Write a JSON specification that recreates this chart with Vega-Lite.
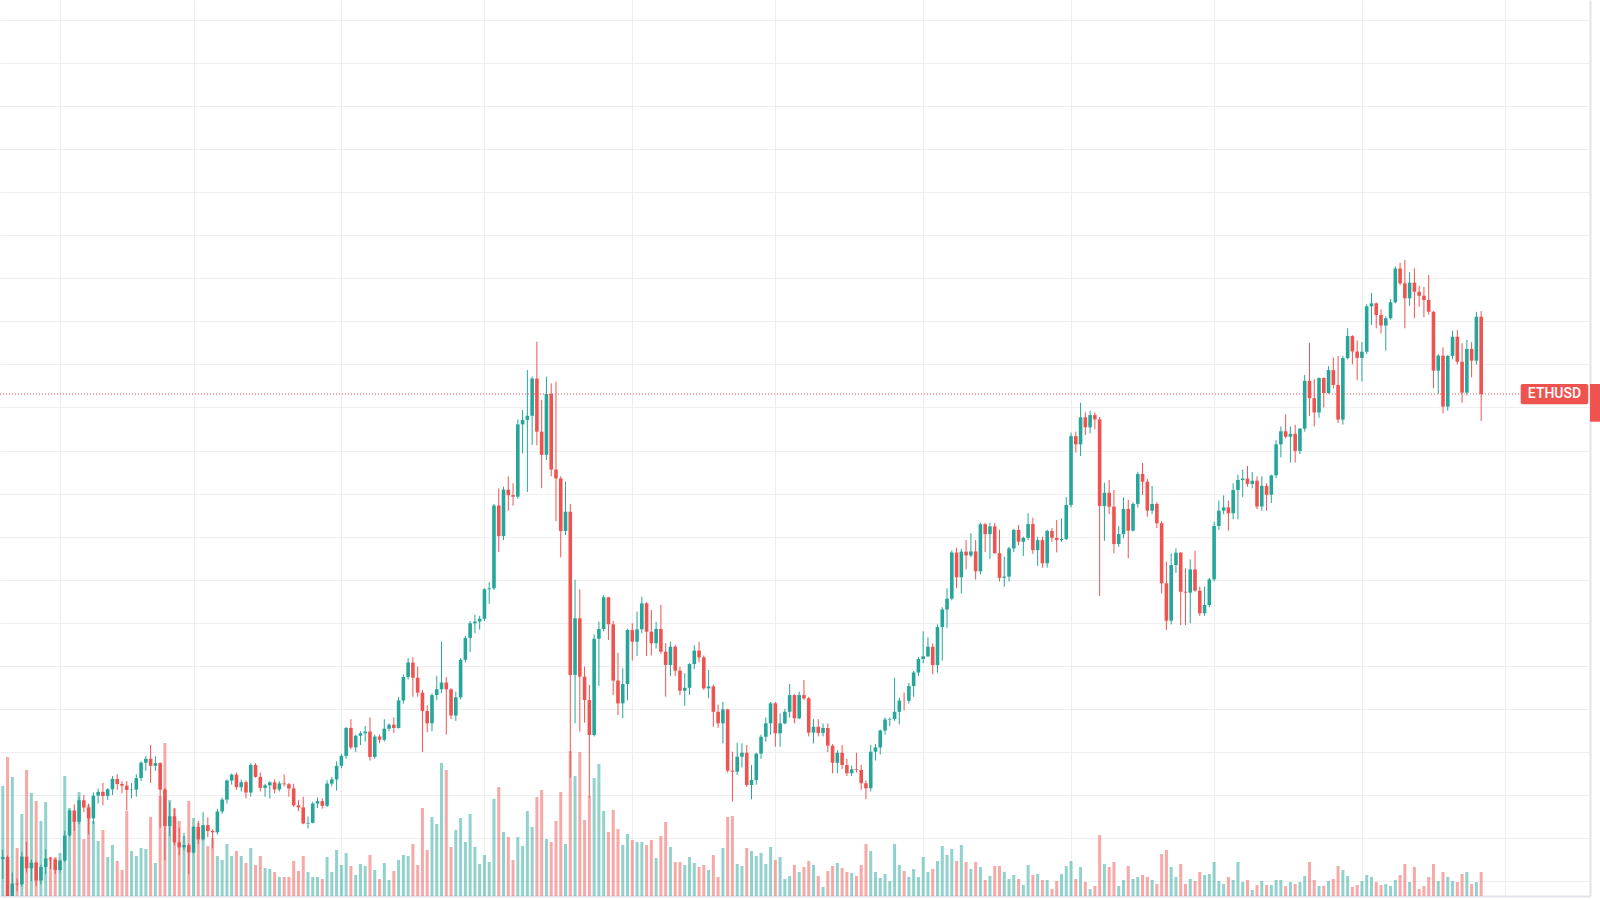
{
"$schema": "https://vega.github.io/schema/vega-lite/v6.json",
"width": 1590,
"height": 896,
"autosize": "none",
"padding": {"left": 0, "top": 0, "right": 10, "bottom": 4},
"background": "white",
"config": {"view": {"stroke": null}},
"datasets": {"eth": [
{"date":"2021-01-20","open":1378,"high":1432,"low":1262,"close":1390,"volume":220},
{"date":"2021-01-21","open":1390,"high":1398,"low":1050,"close":1121,"volume":278},
{"date":"2021-01-22","open":1121,"high":1300,"low":1000,"close":1236,"volume":238},
{"date":"2021-01-23","open":1236,"high":1265,"low":1190,"close":1231,"volume":96},
{"date":"2021-01-24","open":1231,"high":1420,"low":1218,"close":1392,"volume":164},
{"date":"2021-01-25","open":1392,"high":1478,"low":1300,"close":1324,"volume":252},
{"date":"2021-01-26","open":1324,"high":1375,"low":1250,"close":1357,"volume":206},
{"date":"2021-01-27","open":1357,"high":1365,"low":1220,"close":1253,"volume":190},
{"date":"2021-01-28","open":1253,"high":1345,"low":1230,"close":1332,"volume":150},
{"date":"2021-01-29","open":1332,"high":1435,"low":1290,"close":1382,"volume":188},
{"date":"2021-01-30","open":1382,"high":1390,"low":1320,"close":1376,"volume":78},
{"date":"2021-01-31","open":1376,"high":1382,"low":1290,"close":1314,"volume":78},
{"date":"2021-02-01","open":1314,"high":1375,"low":1300,"close":1369,"volume":86},
{"date":"2021-02-02","open":1369,"high":1540,"low":1360,"close":1515,"volume":240},
{"date":"2021-02-03","open":1515,"high":1665,"low":1508,"close":1660,"volume":176},
{"date":"2021-02-04","open":1660,"high":1695,"low":1540,"close":1594,"volume":158},
{"date":"2021-02-05","open":1594,"high":1740,"low":1580,"close":1719,"volume":208},
{"date":"2021-02-06","open":1719,"high":1750,"low":1650,"close":1677,"volume":114},
{"date":"2021-02-07","open":1677,"high":1700,"low":1520,"close":1614,"volume":182},
{"date":"2021-02-08","open":1614,"high":1765,"low":1580,"close":1746,"volume":150},
{"date":"2021-02-09","open":1746,"high":1787,"low":1700,"close":1768,"volume":110},
{"date":"2021-02-10","open":1768,"high":1820,"low":1690,"close":1744,"volume":132},
{"date":"2021-02-11","open":1744,"high":1790,"low":1720,"close":1783,"volume":78},
{"date":"2021-02-12","open":1783,"high":1860,"low":1750,"close":1843,"volume":102},
{"date":"2021-02-13","open":1843,"high":1870,"low":1780,"close":1814,"volume":70},
{"date":"2021-02-14","open":1814,"high":1830,"low":1760,"close":1804,"volume":52},
{"date":"2021-02-15","open":1804,"high":1830,"low":1660,"close":1779,"volume":170},
{"date":"2021-02-16","open":1779,"high":1820,"low":1730,"close":1781,"volume":90},
{"date":"2021-02-17","open":1781,"high":1870,"low":1740,"close":1848,"volume":80},
{"date":"2021-02-18","open":1848,"high":1945,"low":1830,"close":1937,"volume":96},
{"date":"2021-02-19","open":1937,"high":1975,"low":1890,"close":1960,"volume":94},
{"date":"2021-02-20","open":1960,"high":2040,"low":1820,"close":1919,"volume":158},
{"date":"2021-02-21","open":1919,"high":1975,"low":1890,"close":1935,"volume":66},
{"date":"2021-02-22","open":1935,"high":1940,"low":1560,"close":1781,"volume":200},
{"date":"2021-02-23","open":1781,"high":1790,"low":1370,"close":1570,"volume":306},
{"date":"2021-02-24","open":1570,"high":1710,"low":1510,"close":1626,"volume":192},
{"date":"2021-02-25","open":1626,"high":1670,"low":1460,"close":1475,"volume":176},
{"date":"2021-02-26","open":1475,"high":1560,"low":1400,"close":1446,"volume":150},
{"date":"2021-02-27","open":1446,"high":1530,"low":1430,"close":1459,"volume":120},
{"date":"2021-02-28","open":1459,"high":1470,"low":1290,"close":1416,"volume":190},
{"date":"2021-03-01","open":1416,"high":1570,"low":1410,"close":1564,"volume":156},
{"date":"2021-03-02","open":1564,"high":1600,"low":1465,"close":1492,"volume":146},
{"date":"2021-03-03","open":1492,"high":1650,"low":1485,"close":1575,"volume":140},
{"date":"2021-03-04","open":1575,"high":1620,"low":1505,"close":1541,"volume":100},
{"date":"2021-03-05","open":1541,"high":1550,"low":1440,"close":1533,"volume":116},
{"date":"2021-03-06","open":1533,"high":1670,"low":1520,"close":1654,"volume":80},
{"date":"2021-03-07","open":1654,"high":1735,"low":1640,"close":1723,"volume":72},
{"date":"2021-03-08","open":1723,"high":1840,"low":1700,"close":1834,"volume":104},
{"date":"2021-03-09","open":1834,"high":1875,"low":1810,"close":1868,"volume":80},
{"date":"2021-03-10","open":1868,"high":1880,"low":1780,"close":1795,"volume":90},
{"date":"2021-03-11","open":1795,"high":1840,"low":1770,"close":1824,"volume":80},
{"date":"2021-03-12","open":1824,"high":1835,"low":1730,"close":1764,"volume":66},
{"date":"2021-03-13","open":1764,"high":1935,"low":1740,"close":1924,"volume":96},
{"date":"2021-03-14","open":1924,"high":1935,"low":1850,"close":1855,"volume":62},
{"date":"2021-03-15","open":1855,"high":1880,"low":1770,"close":1791,"volume":80},
{"date":"2021-03-16","open":1791,"high":1815,"low":1740,"close":1806,"volume":56},
{"date":"2021-03-17","open":1806,"high":1830,"low":1730,"close":1823,"volume":54},
{"date":"2021-03-18","open":1823,"high":1840,"low":1760,"close":1782,"volume":48},
{"date":"2021-03-19","open":1782,"high":1830,"low":1770,"close":1817,"volume":38},
{"date":"2021-03-20","open":1817,"high":1870,"low":1800,"close":1812,"volume":38},
{"date":"2021-03-21","open":1812,"high":1820,"low":1740,"close":1788,"volume":38},
{"date":"2021-03-22","open":1788,"high":1815,"low":1680,"close":1690,"volume":70},
{"date":"2021-03-23","open":1690,"high":1720,"low":1655,"close":1678,"volume":50},
{"date":"2021-03-24","open":1678,"high":1740,"low":1580,"close":1584,"volume":80},
{"date":"2021-03-25","open":1584,"high":1625,"low":1555,"close":1588,"volume":48},
{"date":"2021-03-26","open":1588,"high":1710,"low":1585,"close":1700,"volume":38},
{"date":"2021-03-27","open":1700,"high":1735,"low":1675,"close":1714,"volume":38},
{"date":"2021-03-28","open":1714,"high":1730,"low":1670,"close":1687,"volume":34},
{"date":"2021-03-29","open":1687,"high":1835,"low":1680,"close":1816,"volume":78},
{"date":"2021-03-30","open":1816,"high":1855,"low":1800,"close":1840,"volume":48},
{"date":"2021-03-31","open":1840,"high":1945,"low":1775,"close":1919,"volume":92},
{"date":"2021-04-01","open":1919,"high":1990,"low":1905,"close":1977,"volume":62},
{"date":"2021-04-02","open":1977,"high":2145,"low":1960,"close":2139,"volume":86},
{"date":"2021-04-03","open":2139,"high":2190,"low":2015,"close":2026,"volume":60},
{"date":"2021-04-04","open":2026,"high":2100,"low":2000,"close":2094,"volume":42},
{"date":"2021-04-05","open":2094,"high":2120,"low":2040,"close":2108,"volume":64},
{"date":"2021-04-06","open":2108,"high":2150,"low":2060,"close":2118,"volume":60},
{"date":"2021-04-07","open":2118,"high":2200,"low":1950,"close":1971,"volume":82},
{"date":"2021-04-08","open":1971,"high":2100,"low":1960,"close":2089,"volume":52},
{"date":"2021-04-09","open":2089,"high":2100,"low":2050,"close":2071,"volume":34},
{"date":"2021-04-10","open":2071,"high":2190,"low":2060,"close":2135,"volume":66},
{"date":"2021-04-11","open":2135,"high":2165,"low":2120,"close":2158,"volume":32},
{"date":"2021-04-12","open":2158,"high":2200,"low":2110,"close":2139,"volume":50},
{"date":"2021-04-13","open":2139,"high":2320,"low":2135,"close":2299,"volume":72},
{"date":"2021-04-14","open":2299,"high":2450,"low":2280,"close":2435,"volume":82},
{"date":"2021-04-15","open":2435,"high":2545,"low":2420,"close":2519,"volume":80},
{"date":"2021-04-16","open":2519,"high":2550,"low":2320,"close":2431,"volume":104},
{"date":"2021-04-17","open":2431,"high":2495,"low":2320,"close":2344,"volume":62},
{"date":"2021-04-18","open":2344,"high":2360,"low":2000,"close":2237,"volume":176},
{"date":"2021-04-19","open":2237,"high":2270,"low":2115,"close":2166,"volume":92},
{"date":"2021-04-20","open":2166,"high":2340,"low":2120,"close":2330,"volume":158},
{"date":"2021-04-21","open":2330,"high":2440,"low":2300,"close":2364,"volume":144},
{"date":"2021-04-22","open":2364,"high":2640,"low":2340,"close":2403,"volume":266},
{"date":"2021-04-23","open":2403,"high":2435,"low":2100,"close":2363,"volume":252},
{"date":"2021-04-24","open":2363,"high":2370,"low":2190,"close":2211,"volume":98},
{"date":"2021-04-25","open":2211,"high":2350,"low":2180,"close":2317,"volume":132},
{"date":"2021-04-26","open":2317,"high":2545,"low":2305,"close":2535,"volume":156},
{"date":"2021-04-27","open":2535,"high":2675,"low":2520,"close":2662,"volume":108},
{"date":"2021-04-28","open":2662,"high":2760,"low":2580,"close":2747,"volume":164},
{"date":"2021-04-29","open":2747,"high":2797,"low":2690,"close":2757,"volume":98},
{"date":"2021-04-30","open":2757,"high":2790,"low":2710,"close":2773,"volume":64},
{"date":"2021-05-01","open":2773,"high":2950,"low":2760,"close":2945,"volume":82},
{"date":"2021-05-02","open":2945,"high":2985,"low":2860,"close":2950,"volume":68},
{"date":"2021-05-03","open":2950,"high":3440,"low":2940,"close":3431,"volume":194},
{"date":"2021-05-04","open":3431,"high":3530,"low":3160,"close":3253,"volume":218},
{"date":"2021-05-05","open":3253,"high":3540,"low":3230,"close":3523,"volume":128},
{"date":"2021-05-06","open":3523,"high":3600,"low":3400,"close":3491,"volume":118},
{"date":"2021-05-07","open":3491,"high":3560,"low":3430,"close":3482,"volume":72},
{"date":"2021-05-08","open":3482,"high":3930,"low":3470,"close":3902,"volume":118},
{"date":"2021-05-09","open":3902,"high":3985,"low":3734,"close":3928,"volume":100},
{"date":"2021-05-10","open":3928,"high":4218,"low":3510,"close":3952,"volume":170},
{"date":"2021-05-11","open":3952,"high":4180,"low":3782,"close":4168,"volume":138},
{"date":"2021-05-12","open":4168,"high":4382,"low":3780,"close":3860,"volume":198},
{"date":"2021-05-13","open":3860,"high":4044,"low":3531,"close":3725,"volume":212},
{"date":"2021-05-14","open":3725,"high":4179,"low":3695,"close":4079,"volume":114},
{"date":"2021-05-15","open":4079,"high":4140,"low":3600,"close":3640,"volume":108},
{"date":"2021-05-16","open":3640,"high":4150,"low":3340,"close":3588,"volume":150},
{"date":"2021-05-17","open":3588,"high":3600,"low":3130,"close":3283,"volume":208},
{"date":"2021-05-18","open":3283,"high":3570,"low":3260,"close":3395,"volume":104},
{"date":"2021-05-19","open":3395,"high":3440,"low":1850,"close":2447,"volume":290},
{"date":"2021-05-20","open":2447,"high":3000,"low":2166,"close":2776,"volume":240},
{"date":"2021-05-21","open":2776,"high":2944,"low":2117,"close":2437,"volume":288},
{"date":"2021-05-22","open":2437,"high":2495,"low":2170,"close":2301,"volume":152},
{"date":"2021-05-23","open":2301,"high":2389,"low":1736,"close":2098,"volume":200},
{"date":"2021-05-24","open":2098,"high":2683,"low":2090,"close":2657,"volume":236},
{"date":"2021-05-25","open":2657,"high":2756,"low":2383,"close":2714,"volume":264},
{"date":"2021-05-26","open":2714,"high":2911,"low":2700,"close":2898,"volume":170},
{"date":"2021-05-27","open":2898,"high":2900,"low":2650,"close":2741,"volume":128},
{"date":"2021-05-28","open":2741,"high":2760,"low":2330,"close":2414,"volume":172},
{"date":"2021-05-29","open":2414,"high":2576,"low":2214,"close":2282,"volume":134},
{"date":"2021-05-30","open":2282,"high":2485,"low":2195,"close":2394,"volume":102},
{"date":"2021-05-31","open":2394,"high":2715,"low":2300,"close":2708,"volume":124},
{"date":"2021-06-01","open":2708,"high":2747,"low":2530,"close":2640,"volume":112},
{"date":"2021-06-02","open":2640,"high":2814,"low":2557,"close":2712,"volume":108},
{"date":"2021-06-03","open":2712,"high":2901,"low":2690,"close":2863,"volume":108},
{"date":"2021-06-04","open":2863,"high":2870,"low":2557,"close":2698,"volume":102},
{"date":"2021-06-05","open":2698,"high":2824,"low":2560,"close":2631,"volume":112},
{"date":"2021-06-06","open":2631,"high":2756,"low":2600,"close":2714,"volume":76},
{"date":"2021-06-07","open":2714,"high":2853,"low":2570,"close":2582,"volume":120},
{"date":"2021-06-08","open":2582,"high":2632,"low":2321,"close":2505,"volume":148},
{"date":"2021-06-09","open":2505,"high":2640,"low":2440,"close":2611,"volume":98},
{"date":"2021-06-10","open":2611,"high":2620,"low":2441,"close":2472,"volume":68},
{"date":"2021-06-11","open":2472,"high":2495,"low":2330,"close":2355,"volume":68},
{"date":"2021-06-12","open":2355,"high":2457,"low":2268,"close":2372,"volume":62},
{"date":"2021-06-13","open":2372,"high":2515,"low":2330,"close":2510,"volume":78},
{"date":"2021-06-14","open":2510,"high":2620,"low":2480,"close":2588,"volume":66},
{"date":"2021-06-15","open":2588,"high":2640,"low":2520,"close":2549,"volume":58},
{"date":"2021-06-16","open":2549,"high":2560,"low":2360,"close":2369,"volume":62},
{"date":"2021-06-17","open":2369,"high":2476,"low":2311,"close":2380,"volume":52},
{"date":"2021-06-18","open":2380,"high":2390,"low":2146,"close":2233,"volume":82},
{"date":"2021-06-19","open":2233,"high":2275,"low":2140,"close":2166,"volume":38},
{"date":"2021-06-20","open":2166,"high":2290,"low":2050,"close":2247,"volume":96},
{"date":"2021-06-21","open":2247,"high":2250,"low":1880,"close":1891,"volume":158},
{"date":"2021-06-22","open":1891,"high":2001,"low":1711,"close":1885,"volume":160},
{"date":"2021-06-23","open":1885,"high":2053,"low":1866,"close":1972,"volume":64},
{"date":"2021-06-24","open":1972,"high":2050,"low":1910,"close":1995,"volume":60},
{"date":"2021-06-25","open":1995,"high":2040,"low":1795,"close":1808,"volume":96},
{"date":"2021-06-26","open":1808,"high":1924,"low":1725,"close":1837,"volume":90},
{"date":"2021-06-27","open":1837,"high":1995,"low":1810,"close":1990,"volume":80},
{"date":"2021-06-28","open":1990,"high":2100,"low":1960,"close":2088,"volume":86},
{"date":"2021-06-29","open":2088,"high":2200,"low":2060,"close":2166,"volume":64},
{"date":"2021-06-30","open":2166,"high":2290,"low":2100,"close":2282,"volume":98},
{"date":"2021-07-01","open":2282,"high":2290,"low":2030,"close":2108,"volume":72},
{"date":"2021-07-02","open":2108,"high":2224,"low":2030,"close":2166,"volume":78},
{"date":"2021-07-03","open":2166,"high":2250,"low":2160,"close":2233,"volume":34},
{"date":"2021-07-04","open":2233,"high":2394,"low":2200,"close":2330,"volume":40},
{"date":"2021-07-05","open":2330,"high":2335,"low":2166,"close":2195,"volume":62},
{"date":"2021-07-06","open":2195,"high":2350,"low":2190,"close":2330,"volume":48},
{"date":"2021-07-07","open":2330,"high":2418,"low":2300,"close":2311,"volume":58},
{"date":"2021-07-08","open":2311,"high":2320,"low":2090,"close":2112,"volume":70},
{"date":"2021-07-09","open":2112,"high":2190,"low":2050,"close":2146,"volume":62},
{"date":"2021-07-10","open":2146,"high":2190,"low":2090,"close":2110,"volume":40},
{"date":"2021-07-11","open":2110,"high":2165,"low":2090,"close":2139,"volume":18},
{"date":"2021-07-12","open":2139,"high":2165,"low":2000,"close":2036,"volume":50},
{"date":"2021-07-13","open":2036,"high":2045,"low":1876,"close":1937,"volume":60},
{"date":"2021-07-14","open":1937,"high":2010,"low":1876,"close":1995,"volume":66},
{"date":"2021-07-15","open":1995,"high":2040,"low":1900,"close":1924,"volume":56},
{"date":"2021-07-16","open":1924,"high":1960,"low":1860,"close":1876,"volume":48},
{"date":"2021-07-17","open":1876,"high":1920,"low":1860,"close":1899,"volume":46},
{"date":"2021-07-18","open":1899,"high":1995,"low":1880,"close":1895,"volume":40},
{"date":"2021-07-19","open":1895,"high":1925,"low":1780,"close":1818,"volume":62},
{"date":"2021-07-20","open":1818,"high":1835,"low":1725,"close":1789,"volume":104},
{"date":"2021-07-21","open":1789,"high":2040,"low":1770,"close":2001,"volume":90},
{"date":"2021-07-22","open":2001,"high":2045,"low":1950,"close":2026,"volume":48},
{"date":"2021-07-23","open":2026,"high":2130,"low":1985,"close":2124,"volume":36},
{"date":"2021-07-24","open":2124,"high":2200,"low":2100,"close":2188,"volume":44},
{"date":"2021-07-25","open":2188,"high":2200,"low":2150,"close":2191,"volume":30},
{"date":"2021-07-26","open":2191,"high":2430,"low":2180,"close":2233,"volume":104},
{"date":"2021-07-27","open":2233,"high":2315,"low":2160,"close":2298,"volume":62},
{"date":"2021-07-28","open":2298,"high":2345,"low":2240,"close":2297,"volume":50},
{"date":"2021-07-29","open":2297,"high":2400,"low":2280,"close":2382,"volume":38},
{"date":"2021-07-30","open":2382,"high":2470,"low":2320,"close":2461,"volume":54},
{"date":"2021-07-31","open":2461,"high":2550,"low":2440,"close":2539,"volume":38},
{"date":"2021-08-01","open":2539,"high":2700,"low":2515,"close":2555,"volume":78},
{"date":"2021-08-02","open":2555,"high":2665,"low":2550,"close":2611,"volume":48},
{"date":"2021-08-03","open":2611,"high":2630,"low":2450,"close":2504,"volume":54},
{"date":"2021-08-04","open":2504,"high":2740,"low":2460,"close":2725,"volume":70},
{"date":"2021-08-05","open":2725,"high":2840,"low":2530,"close":2827,"volume":100},
{"date":"2021-08-06","open":2827,"high":2950,"low":2720,"close":2890,"volume":82},
{"date":"2021-08-07","open":2890,"high":3170,"low":2880,"close":3158,"volume":94},
{"date":"2021-08-08","open":3158,"high":3185,"low":2950,"close":3014,"volume":70},
{"date":"2021-08-09","open":3014,"high":3180,"low":2920,"close":3163,"volume":102},
{"date":"2021-08-10","open":3163,"high":3230,"low":3060,"close":3141,"volume":68},
{"date":"2021-08-11","open":3141,"high":3270,"low":3130,"close":3164,"volume":54},
{"date":"2021-08-12","open":3164,"high":3230,"low":3000,"close":3049,"volume":68},
{"date":"2021-08-13","open":3049,"high":3330,"low":3030,"close":3322,"volume":58},
{"date":"2021-08-14","open":3322,"high":3330,"low":3160,"close":3265,"volume":32},
{"date":"2021-08-15","open":3265,"high":3330,"low":3120,"close":3310,"volume":40},
{"date":"2021-08-16","open":3310,"high":3330,"low":3150,"close":3154,"volume":60},
{"date":"2021-08-17","open":3154,"high":3290,"low":2990,"close":3011,"volume":60},
{"date":"2021-08-18","open":3011,"high":3134,"low":2959,"close":3018,"volume":48},
{"date":"2021-08-19","open":3018,"high":3190,"low":2990,"close":3182,"volume":34},
{"date":"2021-08-20","open":3182,"high":3295,"low":3160,"close":3289,"volume":42},
{"date":"2021-08-21","open":3289,"high":3318,"low":3200,"close":3221,"volume":34},
{"date":"2021-08-22","open":3221,"high":3250,"low":3138,"close":3243,"volume":22},
{"date":"2021-08-23","open":3243,"high":3386,"low":3230,"close":3323,"volume":62},
{"date":"2021-08-24","open":3323,"high":3360,"low":3150,"close":3172,"volume":42},
{"date":"2021-08-25","open":3172,"high":3250,"low":3081,"close":3230,"volume":44},
{"date":"2021-08-26","open":3230,"high":3250,"low":3070,"close":3095,"volume":32},
{"date":"2021-08-27","open":3095,"high":3290,"low":3070,"close":3283,"volume":32},
{"date":"2021-08-28","open":3283,"high":3300,"low":3220,"close":3243,"volume":14},
{"date":"2021-08-29","open":3243,"high":3346,"low":3159,"close":3230,"volume":30},
{"date":"2021-08-30","open":3230,"high":3356,"low":3220,"close":3236,"volume":44},
{"date":"2021-08-31","open":3236,"high":3479,"low":3230,"close":3434,"volume":60},
{"date":"2021-09-01","open":3434,"high":3854,"low":3420,"close":3834,"volume":70},
{"date":"2021-09-02","open":3834,"high":3860,"low":3738,"close":3786,"volume":34},
{"date":"2021-09-03","open":3786,"high":4028,"low":3718,"close":3943,"volume":58},
{"date":"2021-09-04","open":3943,"high":3972,"low":3840,"close":3885,"volume":28},
{"date":"2021-09-05","open":3885,"high":3981,"low":3850,"close":3956,"volume":14},
{"date":"2021-09-06","open":3956,"high":3972,"low":3873,"close":3931,"volume":20},
{"date":"2021-09-07","open":3931,"high":3945,"low":2905,"close":3428,"volume":122},
{"date":"2021-09-08","open":3428,"high":3563,"low":3226,"close":3505,"volume":64},
{"date":"2021-09-09","open":3505,"high":3579,"low":3380,"close":3424,"volume":58},
{"date":"2021-09-10","open":3424,"high":3521,"low":3153,"close":3207,"volume":68},
{"date":"2021-09-11","open":3207,"high":3312,"low":3190,"close":3265,"volume":20},
{"date":"2021-09-12","open":3265,"high":3479,"low":3240,"close":3411,"volume":32},
{"date":"2021-09-13","open":3411,"high":3463,"low":3124,"close":3285,"volume":60},
{"date":"2021-09-14","open":3285,"high":3450,"low":3280,"close":3440,"volume":34},
{"date":"2021-09-15","open":3440,"high":3627,"low":3420,"close":3614,"volume":38},
{"date":"2021-09-16","open":3614,"high":3679,"low":3492,"close":3569,"volume":42},
{"date":"2021-09-17","open":3569,"high":3585,"low":3366,"close":3401,"volume":38},
{"date":"2021-09-18","open":3401,"high":3544,"low":3380,"close":3440,"volume":32},
{"date":"2021-09-19","open":3440,"high":3450,"low":3300,"close":3328,"volume":24},
{"date":"2021-09-20","open":3328,"high":3340,"low":2920,"close":2979,"volume":84},
{"date":"2021-09-21","open":2979,"high":3105,"low":2708,"close":2762,"volume":92},
{"date":"2021-09-22","open":2762,"high":3153,"low":2740,"close":3085,"volume":58},
{"date":"2021-09-23","open":3085,"high":3182,"low":3040,"close":3157,"volume":38},
{"date":"2021-09-24","open":3157,"high":3160,"low":2737,"close":2930,"volume":64},
{"date":"2021-09-25","open":2930,"high":3066,"low":2737,"close":2925,"volume":24},
{"date":"2021-09-26","open":2925,"high":3118,"low":2747,"close":3060,"volume":34},
{"date":"2021-09-27","open":3060,"high":3168,"low":2930,"close":2936,"volume":30},
{"date":"2021-09-28","open":2936,"high":2960,"low":2790,"close":2805,"volume":48},
{"date":"2021-09-29","open":2805,"high":2959,"low":2790,"close":2853,"volume":42},
{"date":"2021-09-30","open":2853,"high":3010,"low":2840,"close":3002,"volume":44},
{"date":"2021-10-01","open":3002,"high":3337,"low":2990,"close":3312,"volume":68},
{"date":"2021-10-02","open":3312,"high":3460,"low":3290,"close":3401,"volume":30},
{"date":"2021-10-03","open":3401,"high":3490,"low":3380,"close":3420,"volume":24},
{"date":"2021-10-04","open":3420,"high":3460,"low":3285,"close":3386,"volume":38},
{"date":"2021-10-05","open":3386,"high":3560,"low":3351,"close":3521,"volume":32},
{"date":"2021-10-06","open":3521,"high":3610,"low":3351,"close":3579,"volume":68},
{"date":"2021-10-07","open":3579,"high":3640,"low":3480,"close":3587,"volume":28},
{"date":"2021-10-08","open":3587,"high":3660,"low":3540,"close":3556,"volume":32},
{"date":"2021-10-09","open":3556,"high":3625,"low":3530,"close":3575,"volume":12},
{"date":"2021-10-10","open":3575,"high":3600,"low":3410,"close":3425,"volume":22},
{"date":"2021-10-11","open":3425,"high":3600,"low":3400,"close":3545,"volume":30},
{"date":"2021-10-12","open":3545,"high":3560,"low":3400,"close":3493,"volume":22},
{"date":"2021-10-13","open":3493,"high":3610,"low":3445,"close":3606,"volume":22},
{"date":"2021-10-14","open":3606,"high":3810,"low":3590,"close":3786,"volume":32},
{"date":"2021-10-15","open":3786,"high":3890,"low":3710,"close":3862,"volume":32},
{"date":"2021-10-16","open":3862,"high":3960,"low":3820,"close":3830,"volume":20},
{"date":"2021-10-17","open":3830,"high":3890,"low":3680,"close":3847,"volume":28},
{"date":"2021-10-18","open":3847,"high":3900,"low":3680,"close":3748,"volume":24},
{"date":"2021-10-19","open":3748,"high":3880,"low":3730,"close":3877,"volume":28},
{"date":"2021-10-20","open":3877,"high":4190,"low":3860,"close":4155,"volume":40},
{"date":"2021-10-21","open":4155,"high":4375,"low":3950,"close":4054,"volume":68},
{"date":"2021-10-22","open":4054,"high":4165,"low":3890,"close":3971,"volume":32},
{"date":"2021-10-23","open":3971,"high":4175,"low":3940,"close":4171,"volume":20},
{"date":"2021-10-24","open":4171,"high":4175,"low":4000,"close":4084,"volume":20},
{"date":"2021-10-25","open":4084,"high":4240,"low":4080,"close":4217,"volume":30},
{"date":"2021-10-26","open":4217,"high":4290,"low":4110,"close":4131,"volume":34},
{"date":"2021-10-27","open":4131,"high":4300,"low":3910,"close":3930,"volume":60},
{"date":"2021-10-28","open":3930,"high":4300,"low":3900,"close":4287,"volume":52},
{"date":"2021-10-29","open":4287,"high":4460,"low":4280,"close":4415,"volume":40},
{"date":"2021-10-30","open":4415,"high":4420,"low":4250,"close":4325,"volume":18},
{"date":"2021-10-31","open":4325,"high":4390,"low":4160,"close":4288,"volume":22},
{"date":"2021-11-01","open":4288,"high":4380,"low":4150,"close":4324,"volume":30},
{"date":"2021-11-02","open":4324,"high":4600,"low":4310,"close":4588,"volume":42},
{"date":"2021-11-03","open":4588,"high":4665,"low":4480,"close":4605,"volume":38},
{"date":"2021-11-04","open":4605,"high":4610,"low":4460,"close":4537,"volume":28},
{"date":"2021-11-05","open":4537,"high":4570,"low":4430,"close":4476,"volume":22},
{"date":"2021-11-06","open":4476,"high":4530,"low":4330,"close":4518,"volume":24},
{"date":"2021-11-07","open":4518,"high":4630,"low":4510,"close":4611,"volume":20},
{"date":"2021-11-08","open":4611,"high":4820,"low":4605,"close":4807,"volume":32},
{"date":"2021-11-09","open":4807,"high":4840,"low":4710,"close":4721,"volume":42},
{"date":"2021-11-10","open":4721,"high":4857,"low":4460,"close":4634,"volume":64},
{"date":"2021-11-11","open":4634,"high":4785,"low":4591,"close":4725,"volume":28},
{"date":"2021-11-12","open":4725,"high":4808,"low":4518,"close":4672,"volume":58},
{"date":"2021-11-13","open":4672,"high":4706,"low":4585,"close":4649,"volume":14},
{"date":"2021-11-14","open":4649,"high":4700,"low":4524,"close":4624,"volume":20},
{"date":"2021-11-15","open":4624,"high":4769,"low":4540,"close":4556,"volume":38},
{"date":"2021-11-16","open":4556,"high":4560,"low":4111,"close":4214,"volume":64},
{"date":"2021-11-17","open":4214,"high":4310,"low":4078,"close":4301,"volume":30},
{"date":"2021-11-18","open":4301,"high":4350,"low":3966,"close":4005,"volume":48},
{"date":"2021-11-19","open":4005,"high":4305,"low":3981,"close":4299,"volume":38},
{"date":"2021-11-20","open":4299,"high":4446,"low":4280,"close":4411,"volume":30},
{"date":"2021-11-21","open":4411,"high":4450,"low":4250,"close":4266,"volume":28},
{"date":"2021-11-22","open":4266,"high":4373,"low":4028,"close":4086,"volume":44},
{"date":"2021-11-23","open":4086,"high":4392,"low":4070,"close":4340,"volume":48},
{"date":"2021-11-24","open":4340,"high":4379,"low":4175,"close":4272,"volume":24},
{"date":"2021-11-25","open":4272,"high":4556,"low":4250,"close":4527,"volume":28},
{"date":"2021-11-26","open":4527,"high":4560,"low":3922,"close":4078,"volume":48}
]},
"layer": [
{
"data": {"name": "eth"},
"mark": {"type": "bar", "size": 3, "opacity": 0.5, "clip": true},
"encoding": {
"x": {"field": "date", "type": "temporal", "scale": {"type": "utc", "domain": [1611050575680, 1639856707200], "padding": 0, "nice": false}, "axis": {"title": null, "labels": false, "ticks": false, "grid": true, "gridColor": "#efefef", "gridWidth": 1, "domain": true, "domainColor": "#e0e3eb", "domainWidth": 2, "values": [1612137600000, 1614556800000, 1617235200000, 1619827200000, 1622505600000, 1625097600000, 1627776000000, 1630454400000, 1633046400000, 1635724800000, 1638316800000]}},
"y": {"field": "volume", "type": "quantitative", "scale": {"domain": [0, 1792], "nice": false, "padding": 0}, "axis": null},
"color": {"condition": {"test": "datum.close >= datum.open", "value": "#26a69a"}, "value": "#ef5350"}
}
},
{
"layer": [
{
"data": {"name": "eth"},
"mark": {"type": "rule", "strokeWidth": 1, "clip": true},
"encoding": {
"x": {"field": "date", "type": "temporal", "scale": {"type": "utc", "domain": [1611050575680, 1639856707200], "padding": 0, "nice": false}, "axis": {"title": null, "labels": false, "ticks": false, "grid": true, "gridColor": "#efefef", "gridWidth": 1, "domain": true, "domainColor": "#e0e3eb", "domainWidth": 2, "values": [1612137600000, 1614556800000, 1617235200000, 1619827200000, 1622505600000, 1625097600000, 1627776000000, 1630454400000, 1633046400000, 1635724800000, 1638316800000]}},
"y": {"field": "low", "type": "quantitative", "scale": {"domain": [1163.2, 6366.4], "nice": false, "zero": false, "padding": 0}, "axis": {"orient": "right", "title": null, "labels": false, "ticks": false, "grid": true, "gridColor": "#efefef", "gridWidth": 1, "domain": true, "domainColor": "#e0e3eb", "domainWidth": 2, "values": [1250, 1500, 1750, 2000, 2250, 2500, 2750, 3000, 3250, 3500, 3750, 4000, 4250, 4500, 4750, 5000, 5250, 5500, 5750, 6000, 6250]}},
"y2": {"field": "high"},
"color": {"condition": {"test": "datum.close >= datum.open", "value": "#26a69a"}, "value": "#ef5350"}
}
},
{
"data": {"name": "eth"},
"mark": {"type": "bar", "size": 3.6, "clip": true},
"encoding": {
"x": {"field": "date", "type": "temporal"},
"y": {"field": "open", "type": "quantitative"},
"y2": {"field": "close"},
"color": {"condition": {"test": "datum.close >= datum.open", "value": "#26a69a"}, "value": "#ef5350"}
}
},
{
"data": {"values": [{"symbol": "ETHUSD", "last": 4078.4}]},
"mark": {"type": "rule", "color": "#ef5350", "strokeWidth": 1, "strokeDash": [1, 2]},
"encoding": {
"x": {"datum": 1611050575680, "type": "temporal"},
"x2": {"datum": 1638601228800},
"y": {"field": "last", "type": "quantitative"}
}
},
{
"data": {"values": [{"symbol": "ETHUSD", "last": 4078.4}]},
"mark": {"type": "rect", "color": "#ef5350", "cornerRadius": 2},
"encoding": {
"x": {"datum": 1638601228800, "type": "temporal"},
"x2": {"datum": 1639825344000},
"y": {"datum": 4136.5, "type": "quantitative"},
"y2": {"datum": 4018.6}
}
},
{
"data": {"values": [{"symbol": "ETHUSD", "last": 4078.4}]},
"mark": {"type": "text", "color": "#ffffff", "font": "Roboto", "fontSize": 14, "fontWeight": 500, "align": "center", "baseline": "middle", "dy": 0.5},
"encoding": {
"x": {"datum": 1639213632000, "type": "temporal"},
"y": {"field": "last", "type": "quantitative"},
"text": {"field": "symbol"}
}
},
{
"data": {"values": [{"symbol": "ETHUSD", "last": 4078.4}]},
"mark": {"type": "rect", "color": "#ef5350", "clip": false},
"encoding": {
"x": {"datum": 1639856707200, "type": "temporal"},
"x2": {"datum": 1640037888000},
"y": {"datum": 4136.5, "type": "quantitative"},
"y2": {"datum": 3917.5}
}
}
]
}
],
"resolve": {"scale": {"y": "independent"}}
}
